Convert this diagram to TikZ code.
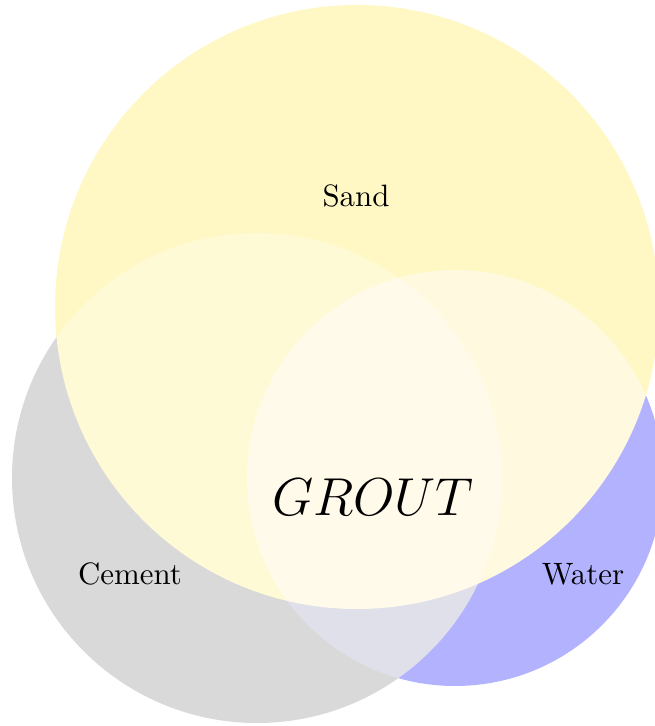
\documentclass[tikz,border=0pt]{standalone}
\usepackage{tikz}
\usepackage{xcolor}
\definecolor{sandcol}{RGB}{255,248,196}
\colorlet{cementcol}{gray!30!white}
\colorlet{watercol}{blue!30!white}

\begin{document}
\begin{tikzpicture}[x=0.3236pt, y=0.3236pt]
    \useasboundingbox (0,0) rectangle (654,726);
    \clip (0,0) rectangle (654,726);

    \begin{scope}[blend group=soft light]
        \fill[sandcol]   (357,419) circle (302);
        \fill[cementcol] (257,248) circle (245);
        \fill[watercol]  (455,248) circle (208);
    \end{scope}

    \node (sand)   at (356,530) {Sand};
    \node (cement) at (130,152) {Cement};
    \node (water)  at (583,152) {Water};
    \node (grout)  at (373,229) {\LARGE $GROUT$};
\end{tikzpicture}
\end{document}
